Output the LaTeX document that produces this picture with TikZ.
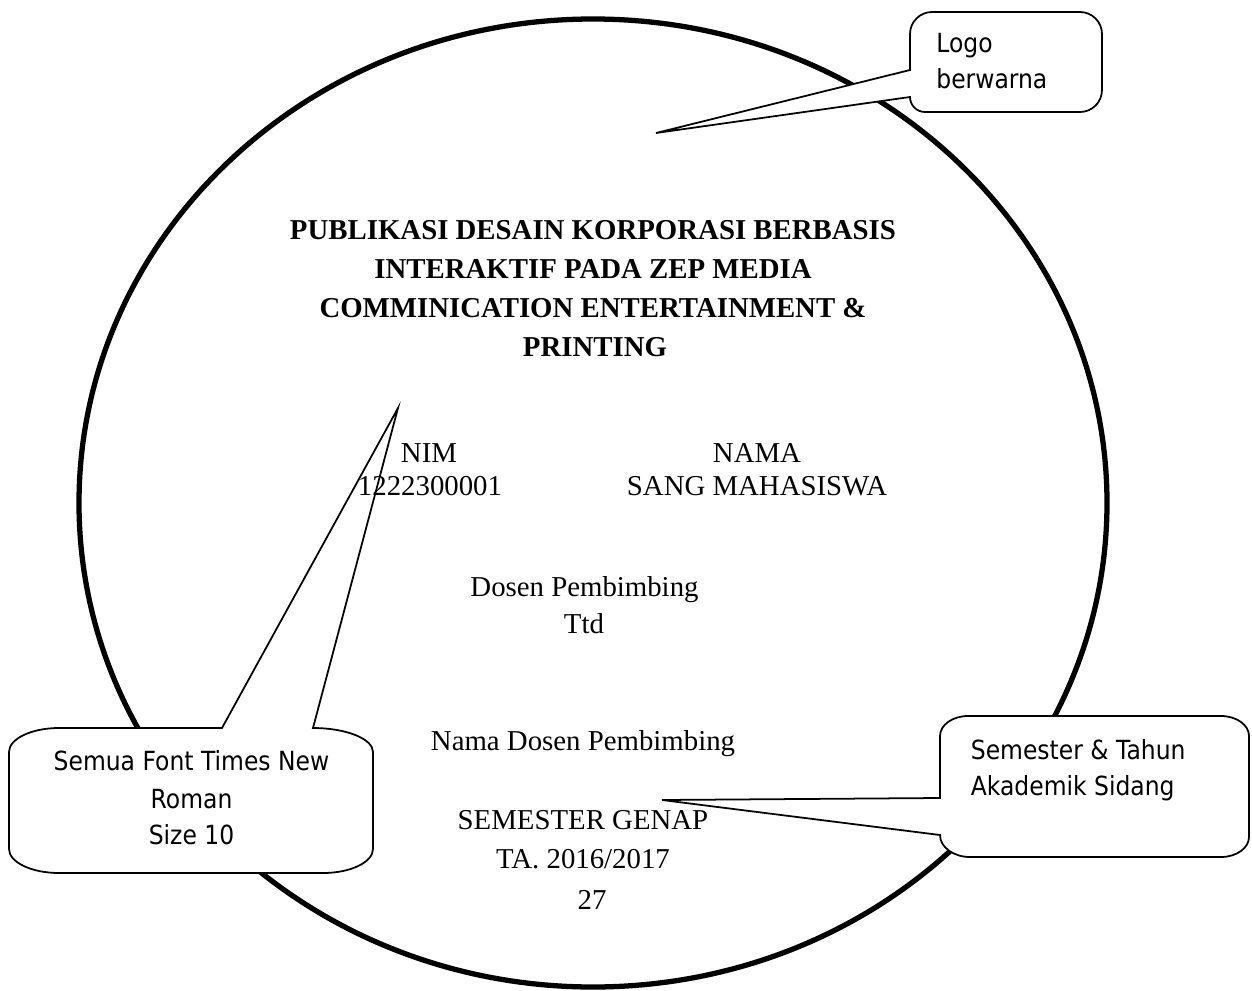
\documentclass[tikz,border=0pt]{standalone}
\usepackage{fontspec}
\setmainfont{Liberation Serif}
\newfontfamily\callfont{DejaVu Sans}[FakeStretch=0.89]
\tikzset{
  ttext/.style={font=\fontsize{16.4}{19}\selectfont, inner sep=0pt, anchor=base},
  ttitle/.style={font=\fontsize{16.4}{19}\selectfont\bfseries, inner sep=0pt, anchor=base},
  ctext/.style={font=\callfont\fontsize{15}{18}\selectfont, inner sep=0pt, anchor=base},
  callout/.style={draw=black, fill=white, line width=1pt, line join=miter},
  ring/.style={draw=black, line width=3pt},
}
\begin{document}
\begin{tikzpicture}[x=0.02cm,y=-0.02cm]
\useasboundingbox (0,0) rectangle (1252,991);
% big ring
\draw[ring] (593,503) ellipse [x radius=514, y radius=484];

% tips of the callouts
\coordinate (logotip) at (656,133);
\coordinate (fonttip) at (398,408);
\coordinate (semtip) at (662,800);

% callout: Logo berwarna
\path[callout] (910,70) -- (910,34) .. controls (910,21.9) and (919.9,12) .. (932,12) -- (1080,12)
  .. controls (1092.1,12) and (1102,21.9) .. (1102,34) -- (1102,90)
  .. controls (1102,102.1) and (1092.1,112) .. (1080,112)
  -- (925,112) .. controls (916.7,112) and (910,105.3) .. (910,97) -- (logotip) -- cycle;

% callout: Semua Font
\path[callout] (313,728) .. controls (346.1,728) and (373,738.8) .. (373,752) -- (373,849)
  .. controls (373,862.2) and (350.6,873) .. (323,873) -- (59,873)
  .. controls (31.4,873) and (9,862.2) .. (9,849)
  -- (9,752) .. controls (9,738.8) and (31.4,728) .. (59,728) -- (222,728) -- (fonttip) -- cycle;

% callout: Semester
\path[callout] (940,798) -- (940,736) .. controls (940,725) and (952.5,716) .. (968,716) -- (1221,716)
  .. controls (1236.5,716) and (1249,725) .. (1249,736) -- (1249,837)
  .. controls (1249,848) and (1236.5,857) .. (1221,857)
  -- (970,857) .. controls (953.4,857) and (940,847.1) .. (940,835) -- (semtip) -- cycle;

% callout texts
\node[ctext, anchor=base west] (logoA) at (936,52.7) {Logo};
\node[ctext, anchor=base west] (logoB) at (936,88.3) {berwarna};
\node[ctext] (fontA) at (191.5,770.7) {Semua Font Times New};
\node[ctext] (fontB) at (191.5,808) {Roman};
\node[ctext] (fontC) at (191.5,844) {Size 10};
\node[ctext, anchor=base west] (semA) at (970.5,759.3) {Semester \& Tahun};
\node[ctext, anchor=base west] (semB) at (970.5,795) {Akademik Sidang};

% title
\node[ttitle] (t1) at (593,239.3) {PUBLIKASI DESAIN KORPORASI BERBASIS};
\node[ttitle] (t2) at (593,278.4) {INTERAKTIF PADA ZEP MEDIA};
\node[ttitle] (t3) at (593,317.6) {COMMINICATION ENTERTAINMENT \&};
\node[ttitle] (t4) at (595,356.7) {PRINTING};

% body
\node[ttext] (nim) at (429,462.7) {NIM};
\node[ttext] (nimno) at (430,495) {1222300001};
\node[ttext] (nama) at (757,462.7) {NAMA};
\node[ttext] (namamhs) at (757,495) {SANG MAHASISWA};
\node[ttext] (dosen) at (584.5,596.7) {Dosen Pembimbing};
\node[ttext] (ttd) at (584,633) {Ttd};
\node[ttext] (namados) at (583,750.7) {Nama Dosen Pembimbing};
\node[ttext] (sem) at (583,829) {SEMESTER GENAP};
\node[ttext] (ta) at (583,868) {TA. 2016/2017};
\node[ttext] (page) at (592,909) {27};
\end{tikzpicture}
\end{document}
